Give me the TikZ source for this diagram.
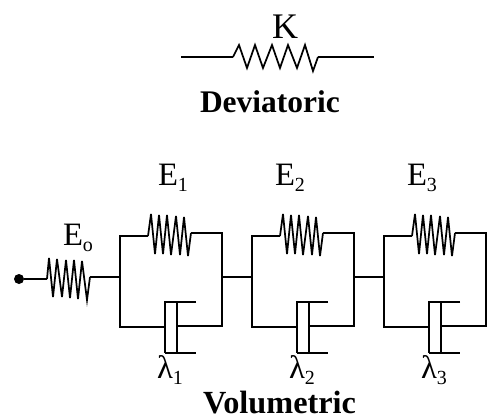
\documentclass[tikz,border=0pt]{standalone}
\usepackage{fontspec}
\setmainfont{Liberation Serif}
\newcommand{\lowidx}[1]{\raisebox{-0.2em}{\fontsize{15}{15}\selectfont #1}}

\begin{document}
\begin{tikzpicture}[x=0.75pt, y=-0.75pt]
\useasboundingbox (0, 0) rectangle (493, 418);

\coordinate (K_a) at (181, 57);
\coordinate (K_b) at (233, 57);
\coordinate (K_c) at (318, 57);
\coordinate (K_d) at (374, 57);
\coordinate (E0_b) at (47, 279);
\coordinate (E0_c) at (90, 277);
\coordinate (L1_1) at (120, 236);
\coordinate (L1_2) at (120, 277);
\coordinate (L1_3) at (120, 327);
\coordinate (R1_1) at (222, 233);
\coordinate (R1_2) at (222, 277);
\coordinate (R1_3) at (222, 326);
\coordinate (L2_1) at (252, 236);
\coordinate (L2_2) at (252, 277);
\coordinate (L2_3) at (252, 327);
\coordinate (R2_1) at (354, 233);
\coordinate (R2_2) at (354, 277);
\coordinate (R2_3) at (354, 326);
\coordinate (L3_1) at (384, 236);
\coordinate (L3_2) at (384, 277);
\coordinate (L3_3) at (384, 327);
\coordinate (R3_1) at (486, 233);
\coordinate (R3_3) at (486, 326);
\coordinate (S1_a) at (148, 236);
\coordinate (S1_b) at (191, 233);
\coordinate (S2_a) at (280, 236);
\coordinate (S2_b) at (323, 233);
\coordinate (S3_a) at (412, 236);
\coordinate (S3_b) at (455, 233);
\coordinate (D1_a) at (165, 327);
\coordinate (D1_b) at (177, 326);
\coordinate (D2_a) at (297, 327);
\coordinate (D2_b) at (309, 326);
\coordinate (D3_a) at (429, 327);
\coordinate (D3_b) at (441, 326);


\tikzset{WireStyle/.style = {line width=1.2pt, line join=miter} }
\tikzset{SpringStyle/.style = {line width=1.3pt, line join=miter, miter limit=8} }
\tikzset{CylStyle/.style = {line width=1.2pt} }

\draw[WireStyle] (K_a) -- (K_b);
\draw[WireStyle] (K_c) -- (K_d);
\draw[SpringStyle] (K_b) -- (239, 45) -- (247, 68) -- (255, 45) -- (263, 68) -- (272, 45) -- (280, 68) -- (288, 45) -- (297, 68) -- (305, 45) -- (313, 71) -- (K_c);

\draw[SpringStyle] (E0_b) -- (49, 258) -- (53, 297) -- (57, 259) -- (62, 297) -- (66, 260) -- (70, 298) -- (74, 260) -- (78, 299) -- (82, 261) -- (87, 300) -- (E0_c);
\draw[WireStyle] (E0_c) -- (L1_2);
\draw[WireStyle] (R1_2) -- (L2_2);
\draw[WireStyle] (R2_2) -- (L3_2);

\draw[WireStyle] (S1_a) -- (L1_1) -- (L1_3) -- (D1_a);
\draw[WireStyle] (S1_b) -- (R1_1) -- (R1_3) -- (D1_b);
\draw[SpringStyle] (S1_a) -- (151, 214) -- (155, 254) -- (159, 215) -- (163, 254) -- (167, 215) -- (171, 255) -- (176, 216) -- (180, 255) -- (184, 217) -- (188, 256) -- (S1_b);
\draw[CylStyle] (196, 302) -- (165, 302) -- (165, 353);
\draw[CylStyle] (177, 302) -- (177, 353);
\draw[CylStyle, line width=1.7pt] (165, 353) -- (196, 353);

\draw[WireStyle] (S2_a) -- (L2_1) -- (L2_3) -- (D2_a);
\draw[WireStyle] (S2_b) -- (R2_1) -- (R2_3) -- (D2_b);
\draw[SpringStyle] (S2_a) -- (283, 214) -- (287, 254) -- (291, 215) -- (295, 254) -- (299, 215) -- (303, 255) -- (308, 216) -- (312, 255) -- (316, 217) -- (320, 256) -- (S2_b);
\draw[CylStyle] (328, 302) -- (297, 302) -- (297, 353);
\draw[CylStyle] (309, 302) -- (309, 353);
\draw[CylStyle, line width=1.7pt] (297, 353) -- (328, 353);

\draw[WireStyle] (S3_a) -- (L3_1) -- (L3_3) -- (D3_a);
\draw[WireStyle] (S3_b) -- (R3_1) -- (R3_3) -- (D3_b);
\draw[SpringStyle] (S3_a) -- (415, 214) -- (419, 254) -- (423, 215) -- (427, 254) -- (431, 215) -- (435, 255) -- (440, 216) -- (444, 255) -- (448, 217) -- (452, 256) -- (S3_b);
\draw[CylStyle] (460, 302) -- (429, 302) -- (429, 353);
\draw[CylStyle] (441, 302) -- (441, 353);
\draw[CylStyle, line width=1.7pt] (429, 353) -- (460, 353);


\tikzset{LabelStyle/.style = {
 anchor = base west,
 inner sep = 0pt,
 outer sep = 0pt,
 font = \fontsize{24.5}{24.5}\selectfont} }
\tikzset{TitleStyle/.style = {
 anchor = base west,
 inner sep = 0pt,
 outer sep = 0pt,
 font = \fontsize{23.6}{23.6}\selectfont\bfseries} }

\node[circle, fill=black, minimum size=7.5pt, inner sep=0pt] (Dot) at (19, 279) {};
\draw[WireStyle] (Dot) -- (E0_b);

\node[LabelStyle, font=\fontsize{27}{27}\selectfont] (K) at (272, 38) {K};
\node[TitleStyle] (Dev) at (200, 112) {Deviatoric};
\node[TitleStyle, font=\fontsize{24.2}{24.2}\selectfont\bfseries] (Vol) at (203, 413) {Volumetric};
\node[LabelStyle] (E0) at (63, 245) {E\lowidx{o}};
\node[LabelStyle] (E1) at (158, 185) {E\lowidx{1}};
\node[LabelStyle] (E2) at (275, 185) {E\lowidx{2}};
\node[LabelStyle] (E3) at (407, 185) {E\lowidx{3}};
\node[LabelStyle] (Lam1) at (157, 378) {λ\lowidx{1}};
\node[LabelStyle] (Lam2) at (289, 378) {λ\lowidx{2}};
\node[LabelStyle] (Lam3) at (421, 378) {λ\lowidx{3}};

\end{tikzpicture}
\end{document}
